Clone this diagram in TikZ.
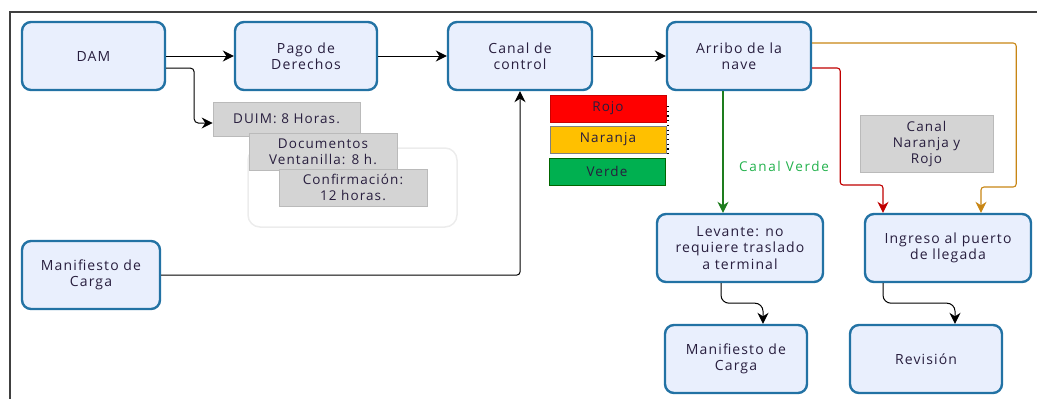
\documentclass[tikz,border=0pt]{standalone}
\usepackage{fontspec}
\setmainfont[LetterSpace=8]{Open Sans}
\usetikzlibrary{arrows.meta}

\definecolor{boxfill}{RGB}{233,239,253}
\definecolor{boxline}{RGB}{34,114,164}
\definecolor{ink}{RGB}{40,30,62}
\definecolor{notefill}{RGB}{212,212,212}
\definecolor{noteline}{RGB}{186,186,186}
\definecolor{rojo}{RGB}{255,0,0}
\definecolor{naranja}{RGB}{255,192,0}
\definecolor{verde}{RGB}{0,176,80}
\definecolor{redline}{RGB}{192,0,0}
\definecolor{orangeline}{RGB}{200,134,20}
\definecolor{greenline}{RGB}{30,125,30}
\definecolor{greentext}{RGB}{34,177,76}
\definecolor{framecol}{RGB}{64,64,64}
\definecolor{faint}{RGB}{236,236,236}

\tikzset{
  proc/.style={draw=boxline, fill=boxfill, line width=2.4pt, rounded corners=9pt,
    minimum height=68pt, align=center, text=ink, inner sep=2pt,
    font=\fontsize{14}{16.5}\selectfont},
  note/.style={fill=notefill, draw=noteline, line width=0.6pt, align=center,
    text=ink, inner sep=0pt, font=\fontsize{13.5}{16}\selectfont},
  chip/.style={minimum width=116pt, minimum height=27pt, inner sep=0pt,
    line width=0.8pt, text=ink, font=\fontsize{13.5}{16}\selectfont},
  flow/.style={-{Stealth[length=11pt,width=11pt]}, line width=1pt, black,
    rounded corners=4pt},
  route/.style={-{Stealth[length=11pt,width=11pt]}, line width=1.1pt,
    rounded corners=3pt}
}

\begin{document}
\begin{tikzpicture}[x=1pt,y=-1pt]
\useasboundingbox (0,0) rectangle (1037,399);

% page frame
\draw[framecol, line width=1.5pt] (9,12) -- (1037,12);
\draw[framecol, line width=2pt] (10,12) -- (10,399);

% faint grouping outline behind the time notes
\draw[faint, line width=1.5pt, rounded corners=12pt] (248,148) rectangle (457,227);

% process boxes
\node[proc, minimum width=143pt] (dam)      at (93.5,56) {DAM};
\node[proc, minimum width=142pt] (pago)     at (306,56)  {Pago de\\Derechos};
\node[proc, minimum width=144pt] (canal)    at (520,56)  {Canal de\\control};
\node[proc, minimum width=144pt] (arribo)   at (739,56)  {Arribo de la\\nave};
\node[proc, minimum width=138pt] (man1)     at (91,275)  {Manifiesto de\\Carga};
\node[proc, minimum width=166pt] (levante)  at (740,248) {Levante: no\\requiere traslado\\a terminal};
\node[proc, minimum width=166pt] (ingreso)  at (948,248) {Ingreso al puerto\\de llegada};
\node[proc, minimum width=142pt] (man2)     at (736,359) {Manifiesto de\\Carga};
\node[proc, minimum width=152pt] (revision) at (926,359) {Revisión};

% time notes
\node[note, minimum width=147pt, minimum height=34pt] (duim) at (286.5,119) {DUIM: 8 Horas.};
\node[note, minimum width=148pt, minimum height=37pt] (docs) at (323,151.5) {Documentos\\Ventanilla: 8 h.};
\node[note, minimum width=148pt, minimum height=37pt] (conf) at (353,187.5) {Confirmación:\\12 horas.};
\node[note, minimum width=133pt, minimum height=57pt] (cnr)  at (926.5,143.5) {Canal\\Naranja y\\Rojo};

% channel colour legend
\node[chip, fill=rojo, draw=red!80!black]       (rojo)    at (608,108.5) {Rojo};
\node[chip, fill=naranja, draw=gray]            (naranja) at (608,139.5) {Naranja};
\node[chip, fill=verde, draw=green!40!black]    (verde)   at (607,171.5) {Verde};
\draw[black, line width=1.2pt, dash pattern=on 1.2pt off 3.5pt] (668,106) -- (668,155);

% main flow
\draw[flow] (dam.east) -- (pago.west);
\draw[flow] ([yshift=-12pt]dam.east) -- ++(28,0) |- ([yshift=-4pt]duim.west);
\draw[flow] (pago.east) -- (canal.west);
\draw[flow] (canal.east) -- (arribo.west);
\draw[flow, rounded corners=3pt] (man1.east) -| (canal.south);

% channels leaving the arrival
\draw[route, greenline] ([xshift=-16pt]arribo.south) -- ([xshift=-16pt]arribo.south |- levante.north);
\node[text=greentext, font=\fontsize{13.5}{16}\selectfont\addfontfeatures{LetterSpace=12}] (cverde) at (784,166) {Canal Verde};
\draw[route, redline] ([yshift=-12pt]arribo.east) -- ++(28,0) -- ++(0,117) -| ([xshift=-65pt]ingreso.north);
\draw[route, orangeline] ([yshift=13pt]arribo.east) -- ++(204,0) -- ++(0,144) -| ([xshift=33pt]ingreso.north);

% final steps
\draw[flow, rounded corners=8pt] ([xshift=-19pt]levante.south) -- ++(0,20) -| ([xshift=27pt]man2.north);
\draw[flow, rounded corners=8pt] ([xshift=-65pt]ingreso.south) -- ++(0,20) -| ([xshift=29pt]revision.north);
\end{tikzpicture}
\end{document}
